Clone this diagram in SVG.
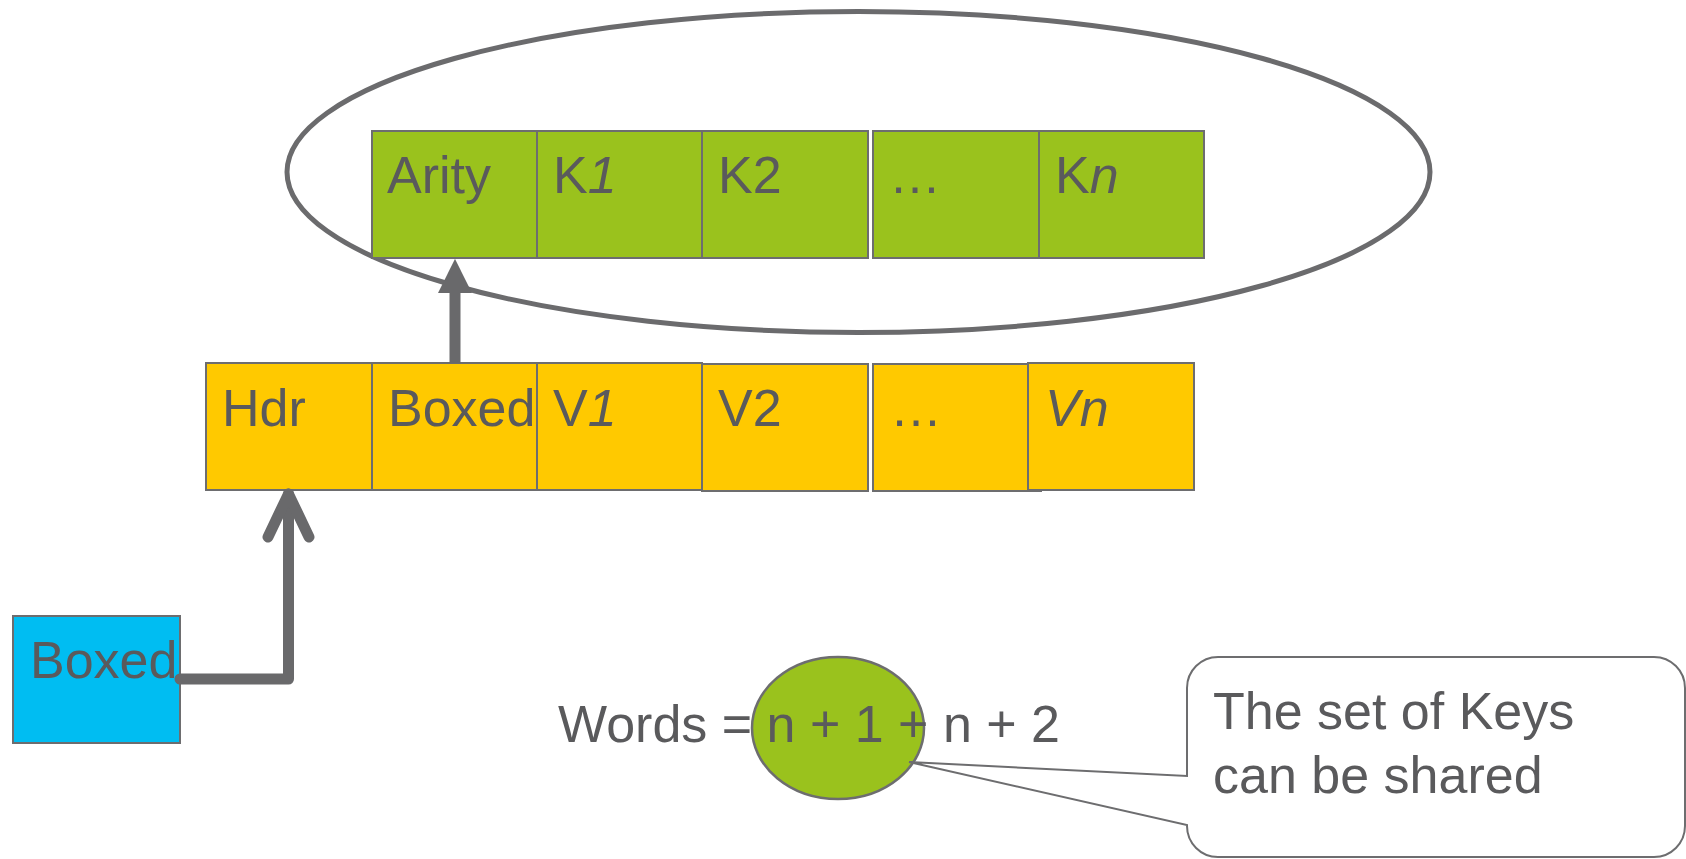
<svg xmlns="http://www.w3.org/2000/svg" width="1686" height="859" viewBox="0 0 1686 859">
  <style>
    text { font-family: "Liberation Sans", Arial, sans-serif; font-size: 52px; fill: #5a5a5c; }
    .it { font-style: italic; }
    .cell { stroke: #6d6d6f; stroke-width: 2; }
    .green { fill: #9ac21d; }
    .yellow { fill: #ffc900; }
    .blue { fill: #00bdf2; }
    .ring { fill: none; stroke: #6b6b6d; stroke-width: 5; }
    .thick { fill: none; stroke: #69696b; stroke-width: 11; stroke-linecap: round; stroke-linejoin: round; }
  </style>
  <defs>
    <marker id="tri" viewBox="0 0 10 10" refX="0" refY="5" markerWidth="3.1" markerHeight="3.1" markerUnits="strokeWidth" orient="auto">
      <path d="M0,0 L10,5 L0,10 Z" fill="#69696b"/>
    </marker>
  </defs>

  <rect width="1686" height="859" fill="#ffffff"/>

  <!-- shared key table enclosure -->
  <g id="keyset">
    <ellipse class="ring" cx="858.5" cy="172" rx="571.5" ry="160.5"/>
  </g>

  <!-- key table row -->
  <g id="arity">
    <rect class="cell green" x="372" y="131" width="165" height="127"/>
    <text x="387" y="193">Arity</text>
  </g>
  <g id="k1">
    <rect class="cell green" x="537" y="131" width="165" height="127"/>
    <text x="553" y="193">K<tspan class="it">1</tspan></text>
  </g>
  <g id="k2">
    <rect class="cell green" x="702" y="131" width="166" height="127"/>
    <text x="718" y="193">K2</text>
  </g>
  <g id="kdots">
    <rect class="cell green" x="873" y="131" width="166" height="127"/>
    <text x="889" y="193">…</text>
  </g>
  <g id="kn">
    <rect class="cell green" x="1039" y="131" width="165" height="127"/>
    <text x="1055" y="193">K<tspan class="it">n</tspan></text>
  </g>

  <!-- boxed value row -->
  <g id="hdr">
    <rect class="cell yellow" x="206" y="363" width="166" height="127"/>
    <text x="222" y="426">Hdr</text>
  </g>
  <g id="boxedptr">
    <rect class="cell yellow" x="372" y="363" width="165" height="127"/>
    <text x="388" y="426">Boxed</text>
  </g>
  <g id="v1">
    <rect class="cell yellow" x="537" y="363" width="165" height="127"/>
    <text x="553" y="426">V<tspan class="it">1</tspan></text>
  </g>
  <g id="v2">
    <rect class="cell yellow" x="702" y="364" width="166" height="127"/>
    <text x="718" y="426">V2</text>
  </g>
  <g id="vdots">
    <rect class="cell yellow" x="873" y="364" width="168" height="127"/>
    <text x="890" y="426">…</text>
  </g>
  <g id="vn">
    <rect class="cell yellow" x="1028" y="363" width="166" height="127"/>
    <text class="it" x="1045" y="426">Vn</text>
  </g>

  <!-- boxed reference -->
  <g id="boxed">
    <rect class="cell blue" x="13" y="616" width="167" height="127"/>
    <text x="30" y="678">Boxed</text>
  </g>

  <!-- word count formula -->
  <g id="formula">
    <ellipse cx="838" cy="728" rx="86" ry="71" fill="#9ac21d" stroke="#6d6d6f" stroke-width="2.5"/>
    <text x="558" y="742">Words = n + 1 + n + 2</text>
  </g>

  <!-- callout note -->
  <g id="note">
    <path d="M1218,657 H1654 A31,31 0 0 1 1685,688 V826 A31,31 0 0 1 1654,857 H1218 A31,31 0 0 1 1187,826 V825 L909,762 L1187,776 V688 A31,31 0 0 1 1218,657 Z" fill="#ffffff" stroke="#6d6d6f" stroke-width="2"/>
    <text x="1213" y="729">The set of Keys</text>
    <text x="1213" y="793">can be shared</text>
  </g>

  <g id="connectors">
    <!-- value block to key table -->
    <line x1="455" y1="363" x2="455" y2="293" stroke="#69696b" stroke-width="11" marker-end="url(#tri)"/>
    <!-- reference to value block -->
    <polyline class="thick" points="180,679 288.5,679 288.5,494"/>
    <polyline class="thick" points="268,537 288.5,494 309,537"/>
  </g>
</svg>
